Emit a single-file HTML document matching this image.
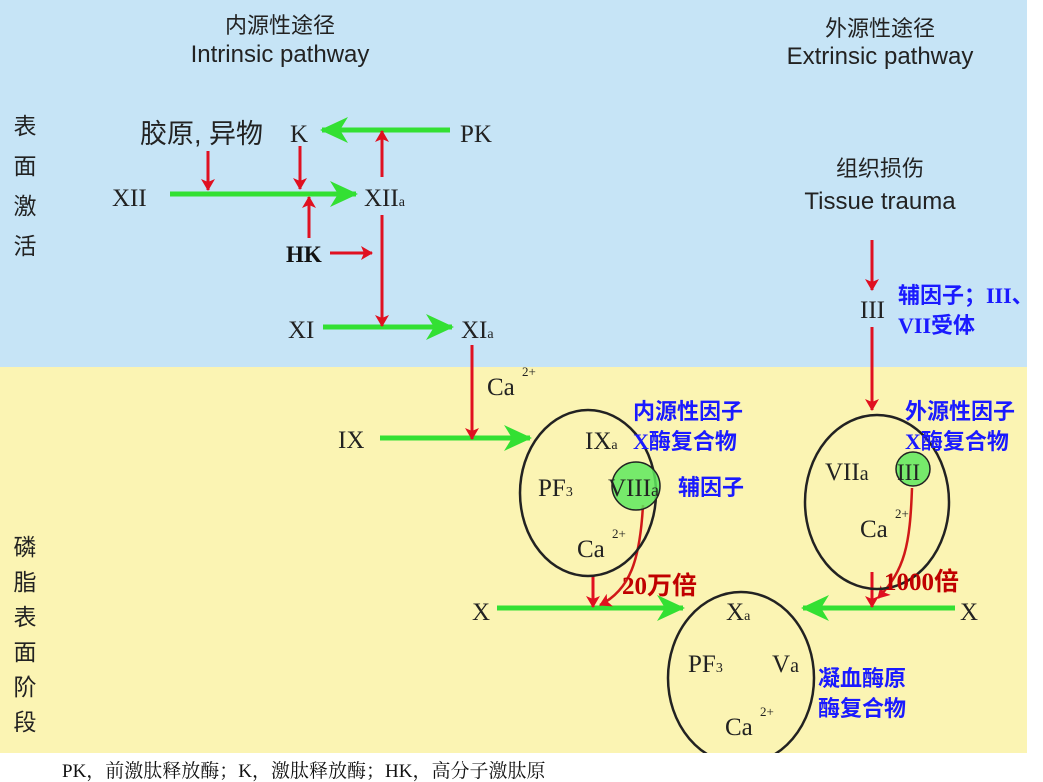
<!DOCTYPE html>
<html><head><meta charset="utf-8"><style>
html,body{margin:0;padding:0;background:#fff;}
svg{display:block;}
.s{font-family:"Liberation Sans","Noto Sans CJK SC",sans-serif;fill:#222;}
.r{font-family:"Liberation Serif","Noto Serif CJK SC",serif;fill:#222;}
.b{font-family:"Liberation Serif","Noto Sans CJK SC",sans-serif;fill:#1a1aff;font-weight:bold;font-size:22px;}
.rd{font-family:"Liberation Serif","Noto Sans CJK SC",serif;fill:#c00000;font-weight:bold;font-size:25px;}
</style></head><body>
<svg width="1043" height="782" viewBox="0 0 1043 782" xmlns="http://www.w3.org/2000/svg">
<defs>
<marker id="gr" markerWidth="30" markerHeight="26" refX="26" refY="13" orient="auto" markerUnits="userSpaceOnUse"><path d="M0,0 L28,13 L0,26 L8,13 z" fill="#33e033"/></marker>
<marker id="rr" markerWidth="12" markerHeight="14" refX="11" refY="7" orient="auto" markerUnits="userSpaceOnUse"><path d="M0,0 L12,7 L0,14 L3,7 z" fill="#e01020"/></marker>
</defs>
<rect x="0" y="0" width="1027" height="367" fill="#c6e4f6"/>
<rect x="0" y="367" width="1027" height="386" fill="#fbf4b3"/>
<g class="s" text-anchor="middle" fill="#333">
<text x="280" y="33" font-size="22">内源性途径</text><text x="280" y="62" font-size="24">Intrinsic pathway</text>
<text x="880" y="36" font-size="22">外源性途径</text><text x="880" y="64" font-size="24">Extrinsic pathway</text>
<text x="880" y="176" font-size="22">组织损伤</text><text x="880" y="209" font-size="24">Tissue trauma</text>
</g>
<g class="s" font-size="23" text-anchor="middle" fill="#333">
<text x="25" y="134">表</text><text x="25" y="174">面</text><text x="25" y="214">激</text><text x="25" y="254">活</text>
<text x="25" y="555">磷</text><text x="25" y="590">脂</text><text x="25" y="625">表</text><text x="25" y="660">面</text><text x="25" y="695">阶</text><text x="25" y="730">段</text>
</g>
<text class="s" x="140" y="143" font-size="27" fill="#111">胶原, 异物</text>
<g class="r" font-size="25">
<text x="290" y="142">K</text><text x="460" y="142">PK</text>
<text x="112" y="206">XII</text><text x="364" y="206">XII<tspan font-size="14">a</tspan></text>
<text x="288" y="338">XI</text><text x="461" y="338">XI<tspan font-size="14">a</tspan></text>
<text x="338" y="448">IX</text>
<text x="472" y="620">X</text><text x="960" y="620">X</text>
<text x="585" y="449">IX<tspan font-size="14">a</tspan></text>
<text x="538" y="496">PF<tspan font-size="14">3</tspan></text>
<text x="577" y="557">Ca</text><text x="612" y="538" font-size="13">2+</text>
<text x="825" y="480">VII<tspan font-size="20">a</tspan></text>
<text x="860" y="537">Ca</text><text x="895" y="518" font-size="13">2+</text>
<text x="726" y="620">X<tspan font-size="14">a</tspan></text>
<text x="688" y="672">PF<tspan font-size="14">3</tspan></text>
<text x="772" y="672">V<tspan font-size="20">a</tspan></text>
<text x="725" y="735">Ca</text><text x="760" y="716" font-size="13">2+</text>
<text x="487" y="395">Ca</text><text x="522" y="376" font-size="13">2+</text>
<text x="860" y="318">III</text>
</g>
<text x="286" y="262" font-family="Liberation Serif" font-weight="bold" font-size="23" fill="#111">HK</text>
<g stroke="#33e033" stroke-width="5" fill="none">
<line x1="450" y1="130" x2="322" y2="130" marker-end="url(#gr)"/>
<line x1="170" y1="194" x2="356" y2="194" marker-end="url(#gr)"/>
<line x1="323" y1="327" x2="452" y2="327" marker-end="url(#gr)"/>
<line x1="380" y1="438" x2="530" y2="438" marker-end="url(#gr)"/>
<line x1="497" y1="608" x2="683" y2="608" marker-end="url(#gr)"/>
<line x1="955" y1="608" x2="803" y2="608" marker-end="url(#gr)"/>
</g>
<g stroke="#e01020" stroke-width="3" fill="none">
<line x1="208" y1="151" x2="208" y2="190" marker-end="url(#rr)"/>
<line x1="300" y1="146" x2="300" y2="189" marker-end="url(#rr)"/>
<line x1="309" y1="238" x2="309" y2="197" marker-end="url(#rr)"/>
<line x1="382" y1="177" x2="382" y2="131" marker-end="url(#rr)"/>
<line x1="330" y1="253" x2="372" y2="253" marker-end="url(#rr)"/>
<line x1="382" y1="215" x2="382" y2="326" marker-end="url(#rr)"/>
<line x1="472" y1="345" x2="472" y2="439" marker-end="url(#rr)"/>
<line x1="872" y1="240" x2="872" y2="290" marker-end="url(#rr)"/>
<line x1="872" y1="327" x2="872" y2="410" marker-end="url(#rr)"/>
<line x1="593" y1="575" x2="593" y2="607" marker-end="url(#rr)"/>
<line x1="872" y1="572" x2="872" y2="607" marker-end="url(#rr)"/>
</g>
<g stroke="#d01818" stroke-width="2.5" fill="none">
<path d="M643,505 C640,560 630,590 600,605" marker-end="url(#rr)"/>
<path d="M912,488 C910,545 905,570 878,598" marker-end="url(#rr)"/>
</g>
<g stroke="#222" stroke-width="2.5" fill="none">
<ellipse cx="588" cy="493" rx="68" ry="83"/>
<ellipse cx="877" cy="502" rx="72" ry="87"/>
<ellipse cx="741" cy="678" rx="73" ry="86"/>
</g>
<circle cx="636" cy="486" r="24" fill="#5ee85e" fill-opacity="0.85" stroke="#222" stroke-width="1.5"/>
<circle cx="913" cy="469" r="17" fill="#5ee85e" fill-opacity="0.85" stroke="#222" stroke-width="1.5"/>
<g class="r" font-size="25"><text x="608" y="496">VIII<tspan font-size="18">a</tspan></text><text x="897" y="480" font-size="23">III</text></g>
<rect x="0" y="753" width="1043" height="29" fill="#fff"/>
<g class="b">
<text x="633" y="419">内源性因子</text><text x="633" y="449">X酶复合物</text>
<text x="678" y="495">辅因子</text>
<text x="905" y="419">外源性因子</text><text x="905" y="449">X酶复合物</text>
<text x="898" y="303">辅因子；III、</text><text x="898" y="333">VII受体</text>
<text x="818" y="686">凝血酶原</text><text x="818" y="716">酶复合物</text>
</g>
<text class="rd" x="622" y="594">20万倍</text>
<text class="rd" x="884" y="590">1000倍</text>
<text x="62" y="777" font-family="Liberation Serif,'Noto Serif CJK SC',serif" font-size="19" fill="#111">PK，前激肽释放酶；K，激肽释放酶；HK，高分子激肽原</text>
</svg>
</body></html>
